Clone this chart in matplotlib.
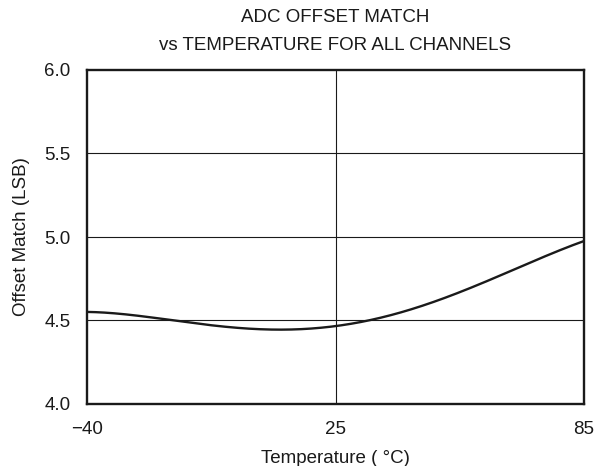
import numpy as np
import matplotlib
matplotlib.use("Agg")
import matplotlib.pyplot as plt

plt.rcParams["font.family"] = ["Liberation Sans", "DejaVu Sans"]

# values
temperature = [-40, -28.7, -17.4, -5.1, 1.8, 9.7, 17.5, 25, 32.8, 40.2,
               48.5, 56.7, 64.9, 73.1, 81.3, 85]
offset_match = [4.553, 4.530, 4.500, 4.470, 4.454, 4.446, 4.449, 4.460, 4.497, 4.548,
                4.613, 4.688, 4.770, 4.856, 4.940, 4.978]

x_ticks = [-40, 25, 85]
x_labels = ["\u221240", "25", "85"]
y_ticks = [4.0, 4.5, 5.0, 5.5, 6.0]

# the printed axis puts 25 in the middle of the span
scale_pts = [-40, 25, 85]
scale_pos = [0.0, 0.5, 1.0]


def fwd(x):
    return np.interp(x, scale_pts, scale_pos)


def inv(u):
    return np.interp(u, scale_pos, scale_pts)


# smooth the read points with a low order fit in the drawn (scaled) domain
u_pts = fwd(np.array(temperature))
coef = np.polyfit(u_pts, offset_match, 5)
u_fine = np.linspace(0, 1, 400)
t_fine = inv(u_fine)
y_fine = np.polyval(coef, u_fine)

fig = plt.figure(figsize=(5.94, 4.66), dpi=100)
ax = fig.add_axes([87 / 594, 1 - 404 / 466, (584 - 87) / 594, (404 - 70) / 466])

ax.set_xscale("function", functions=(fwd, inv))
ax.plot(t_fine, y_fine, color="#1a1a1a", linewidth=1.7, solid_capstyle="butt")

ax.set_xlim(-40, 85)
ax.set_ylim(4.0, 6.0)
ax.set_xticks(x_ticks)
ax.set_xticklabels(x_labels)
ax.set_yticks(y_ticks)
ax.set_yticklabels([f"{v:.1f}" for v in y_ticks])
ax.minorticks_off()
ax.tick_params(length=0, labelsize=13.5, colors="#1a1a1a")
ax.tick_params(axis="y", pad=12)
ax.tick_params(axis="x", pad=12)

for v in y_ticks[1:-1]:
    ax.axhline(v, color="#1a1a1a", linewidth=0.8, zorder=0)
ax.axvline(25, color="#1a1a1a", linewidth=0.8, zorder=0)

for s in ax.spines.values():
    s.set_linewidth(1.7)
    s.set_color("#1a1a1a")

ax.set_xlabel("Temperature ( °C)", fontsize=13.5, color="#1a1a1a", labelpad=9)
ax.set_ylabel("Offset Match (LSB)", fontsize=13.5, color="#1a1a1a", labelpad=10)

cx = (87 + 584) / 2 / 594
fig.text(cx, 1 - 18 / 466, "ADC OFFSET MATCH", ha="center", va="center",
         fontsize=13.5, color="#1a1a1a")
fig.text(cx, 1 - 45 / 466, "vs TEMPERATURE FOR ALL CHANNELS", ha="center",
         va="center", fontsize=13.5, color="#1a1a1a")

fig.savefig("out.png", dpi=100)
